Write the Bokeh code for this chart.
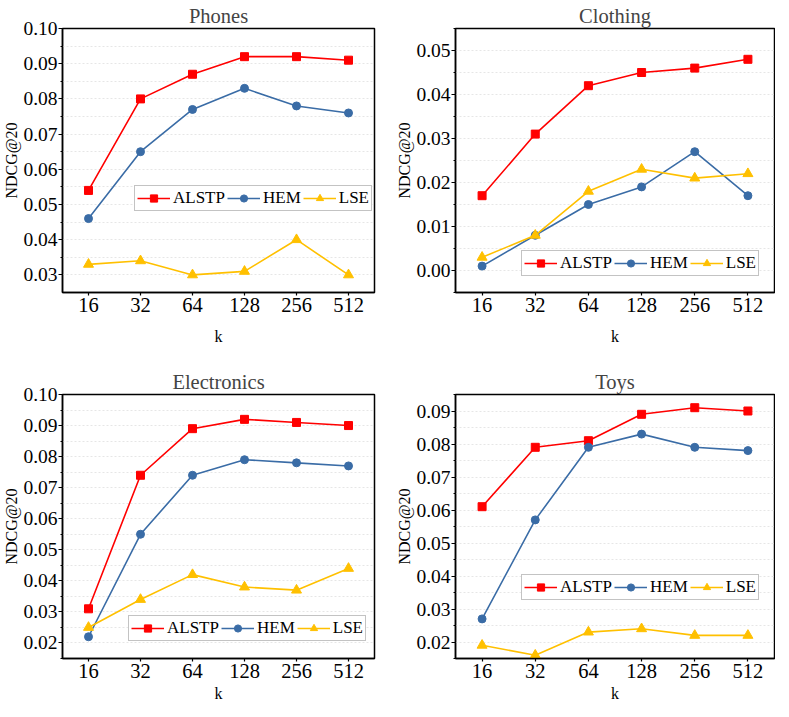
from bokeh.plotting import figure
from bokeh.layouts import gridplot
from bokeh.models import Range1d, FixedTicker, SingleIntervalTicker, NumeralTickFormatter, Legend, LegendItem
from bokeh.embed import file_html
from bokeh.resources import INLINE

k_labels = ["16", "32", "64", "128", "256", "512"]
series_names = ["ALSTP", "HEM", "LSE"]

phones_alstp = [0.054, 0.080, 0.087, 0.092, 0.092, 0.091]
phones_hem = [0.046, 0.065, 0.077, 0.083, 0.078, 0.076]
phones_lse = [0.033, 0.034, 0.030, 0.031, 0.040, 0.030]

clothing_alstp = [0.017, 0.031, 0.042, 0.045, 0.046, 0.048]
clothing_hem = [0.001, 0.008, 0.015, 0.019, 0.027, 0.017]
clothing_lse = [0.003, 0.008, 0.018, 0.023, 0.021, 0.022]

electronics_alstp = [0.031, 0.074, 0.089, 0.092, 0.091, 0.090]
electronics_hem = [0.022, 0.055, 0.074, 0.079, 0.078, 0.077]
electronics_lse = [0.025, 0.034, 0.042, 0.038, 0.037, 0.044]

toys_alstp = [0.061, 0.079, 0.081, 0.089, 0.091, 0.090]
toys_hem = [0.027, 0.057, 0.079, 0.083, 0.079, 0.078]
toys_lse = [0.019, 0.016, 0.023, 0.024, 0.022, 0.022]

FONT = "Liberation Serif"
COLORS = ["#FF0000", "#3A6CA6", "#FFC000"]
MARKERS = ["square", "circle", "triangle"]
MSIZE = [8, 8, 10]


def make_fig(title, data, yr, width, height, borders, legend_loc, xlab_standoff):
    bl, br, bt, bb = borders
    p = figure(width=width, height=height, output_backend="svg", toolbar_location=None,
               x_range=Range1d(-0.5, 5.5), y_range=Range1d(*yr),
               min_border_left=bl, min_border_right=br, min_border_top=bt, min_border_bottom=bb)
    p.title.text = title
    p.title.text_font = FONT
    p.title.text_font_size = "20.5px"
    p.title.text_font_style = "normal"
    p.title.align = "center"
    p.title.standoff = 3
    p.title.offset = 0

    xs = list(range(len(k_labels)))
    items = []
    for i, ys in enumerate(data):
        r1 = p.line(xs, ys, line_color=COLORS[i], line_width=1.6)
        r2 = p.scatter(xs, ys, marker=MARKERS[i], size=MSIZE[i], fill_color=COLORS[i], line_color=COLORS[i])
        items.append(LegendItem(label=series_names[i], renderers=[r1, r2]))

    p.xaxis.ticker = FixedTicker(ticks=xs)
    p.xaxis.major_label_overrides = {i: lab for i, lab in enumerate(k_labels)}
    p.xaxis.axis_label = "k"
    p.yaxis.axis_label = "NDCG@20"
    p.yaxis.ticker = SingleIntervalTicker(interval=0.01, num_minor_ticks=2)
    p.yaxis.formatter = NumeralTickFormatter(format="0.00")

    for ax in (p.xaxis[0], p.yaxis[0]):
        ax.axis_line_color = "black"
        ax.axis_line_width = 1.5
        ax.major_tick_line_color = "black"
        ax.major_tick_line_width = 1.2
        ax.major_tick_in = 0
        ax.major_label_text_font = FONT
        ax.major_label_text_color = "black"
        ax.axis_label_text_font = FONT
        ax.axis_label_text_font_size = "16px"
        ax.axis_label_text_font_style = "normal"
        ax.axis_label_text_color = "black"
    p.xaxis.major_label_text_font_size = "20.5px"
    p.yaxis.major_label_text_font_size = "19.5px"
    p.xaxis.major_tick_out = 3
    p.xaxis.minor_tick_line_color = None
    p.xaxis.major_label_standoff = 2
    p.xaxis.axis_label_standoff = xlab_standoff
    p.yaxis.major_tick_out = 4
    p.yaxis.minor_tick_in = 0
    p.yaxis.minor_tick_out = 2
    p.yaxis.minor_tick_line_color = "black"
    p.yaxis.major_label_standoff = 1
    p.yaxis.axis_label_standoff = 0

    p.xgrid.grid_line_color = None
    p.ygrid.grid_line_color = None
    p.ygrid.minor_grid_line_color = "#e6e6e6"
    p.ygrid.minor_grid_line_dash = "2 2"
    p.ygrid.minor_grid_line_width = 1

    p.outline_line_color = "black"
    p.outline_line_width = 1.5
    p.outline_line_alpha = 1.0

    legend = Legend(items=items, orientation="horizontal", location=legend_loc)
    legend.label_text_font = FONT
    legend.label_text_font_size = "17px"
    legend.label_text_color = "black"
    legend.glyph_width = 33
    legend.glyph_height = 18
    legend.label_height = 18
    legend.label_standoff = 3
    legend.spacing = 2
    legend.padding = 2
    legend.margin = 0
    legend.border_line_color = "#888888"
    legend.border_line_width = 1
    legend.background_fill_alpha = 1.0
    p.add_layout(legend, "center")
    return p


p1 = make_fig("Phones", [phones_alstp, phones_hem, phones_lse], (0.025, 0.10),
              387, 357, (54, 13, 28, 65), (72, 81), 13)
p2 = make_fig("Clothing", [clothing_alstp, clothing_hem, clothing_lse], (-0.005, 0.055),
              388, 357, (68, 1, 28, 65), (66, 16), 13)
p3 = make_fig("Electronics", [electronics_alstp, electronics_hem, electronics_lse], (0.015, 0.10),
              387, 351, (54, 13, 37, 50), (66, 17), 4)
p4 = make_fig("Toys", [toys_alstp, toys_hem, toys_lse], (0.015, 0.095),
              388, 351, (68, 1, 37, 50), (66, 58), 4)

grid = gridplot([[p1, p2], [p3, p4]], toolbar_location=None)
open("out.html", "w").write(file_html(grid, INLINE))
